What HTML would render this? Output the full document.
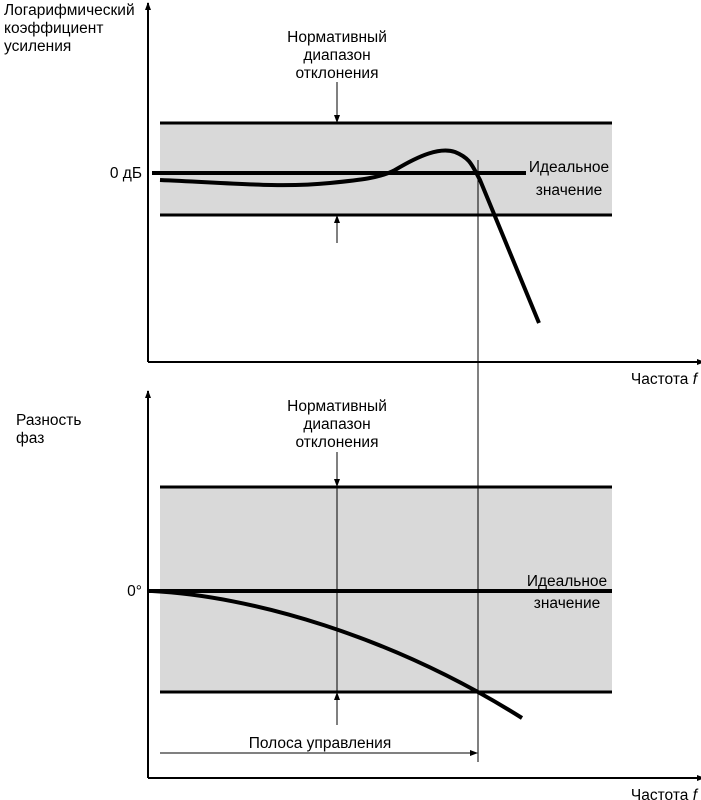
<!DOCTYPE html>
<html><head><meta charset="utf-8"><style>
body{margin:0;background:#fff}
svg{display:block;font-family:"Liberation Sans",sans-serif;font-size:15.5px}
</style></head><body>
<svg width="701" height="800" viewBox="0 0 701 800">
<defs>
<marker id="a" markerWidth="8" markerHeight="8" refX="7" refY="4" orient="auto" markerUnits="userSpaceOnUse">
<path d="M0,1 L8,4 L0,7 z" fill="#000"/></marker>
</defs>
<rect x="160" y="123" width="452" height="92" fill="#d9d9d9"/>
<rect x="160" y="487" width="452" height="205" fill="#d9d9d9"/>
<line x1="478" y1="160" x2="478" y2="762" stroke="#000" stroke-width="1"/>
<line x1="160" y1="123" x2="612" y2="123" stroke="#000" stroke-width="3"/>
<line x1="160" y1="215" x2="612" y2="215" stroke="#000" stroke-width="3"/>
<line x1="148" y1="362" x2="148" y2="3" stroke="#000" stroke-width="2" marker-end="url(#a)"/>
<line x1="148" y1="362" x2="704" y2="362" stroke="#000" stroke-width="2" marker-end="url(#a)"/>
<line x1="152" y1="173" x2="526" y2="173" stroke="#000" stroke-width="4"/>
<line x1="337" y1="82" x2="337" y2="122" stroke="#000" stroke-width="1" marker-end="url(#a)"/>
<line x1="337" y1="243" x2="337" y2="216" stroke="#000" stroke-width="1" marker-end="url(#a)"/>
<path d="M160,180 C230,183 280,188 330,183 C360,180 380,178 395,170 C420,155 440,147 455,152 C470,158 472,165 480,180 L539,323" fill="none" stroke="#000" stroke-width="4"/>
<text x="4" y="15">Логарифмический</text>
<text x="4" y="33">коэффициент</text>
<text x="4" y="51">усиления</text>
<text x="142" y="178" text-anchor="end">0 дБ</text>
<text x="337" y="42" text-anchor="middle">Нормативный</text>
<text x="337" y="60" text-anchor="middle">диапазон</text>
<text x="337" y="78" text-anchor="middle">отклонения</text>
<text x="569" y="172" text-anchor="middle">Идеальное</text>
<text x="569" y="195" text-anchor="middle">значение</text>
<text x="697" y="384" text-anchor="end">Частота <tspan font-style="italic">f</tspan></text>
<line x1="160" y1="487" x2="612" y2="487" stroke="#000" stroke-width="3"/>
<line x1="160" y1="692" x2="612" y2="692" stroke="#000" stroke-width="3"/>
<line x1="148" y1="778" x2="148" y2="391" stroke="#000" stroke-width="2" marker-end="url(#a)"/>
<line x1="148" y1="778" x2="704" y2="778" stroke="#000" stroke-width="2" marker-end="url(#a)"/>
<line x1="148" y1="591" x2="612" y2="591" stroke="#000" stroke-width="4"/>
<line x1="337" y1="452" x2="337" y2="486" stroke="#000" stroke-width="1" marker-end="url(#a)"/>
<line x1="337" y1="486" x2="337" y2="692" stroke="#000" stroke-width="1"/>
<line x1="337" y1="725" x2="337" y2="693" stroke="#000" stroke-width="1" marker-end="url(#a)"/>
<path d="M152,591 C250,596 390,635 522,718" fill="none" stroke="#000" stroke-width="4"/>
<line x1="160" y1="753" x2="477" y2="753" stroke="#000" stroke-width="1" marker-end="url(#a)"/>
<text x="16" y="425">Разность</text>
<text x="16" y="443">фаз</text>
<text x="142" y="596" text-anchor="end">0°</text>
<text x="337" y="411" text-anchor="middle">Нормативный</text>
<text x="337" y="429" text-anchor="middle">диапазон</text>
<text x="337" y="447" text-anchor="middle">отклонения</text>
<text x="567" y="586" text-anchor="middle">Идеальное</text>
<text x="567" y="608" text-anchor="middle">значение</text>
<text x="320" y="748" text-anchor="middle">Полоса управления</text>
<text x="697" y="800" text-anchor="end">Частота <tspan font-style="italic">f</tspan></text>
</svg>
</body></html>
